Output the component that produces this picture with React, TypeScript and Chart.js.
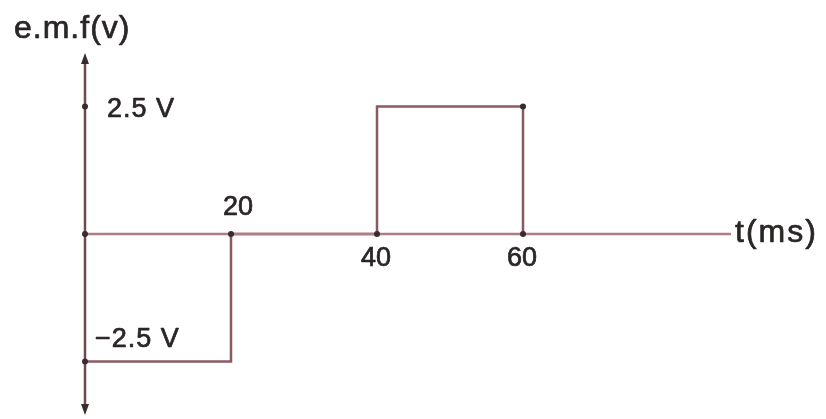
import { useEffect, useRef } from 'react';
import { Chart, registerables } from 'chart.js';

Chart.register(...registerables);

// Square-wave e.m.f. against time
const timeMs = [0, 20, 20, 40, 40, 60, 60];
const emfV = [-2.5, -2.5, 0, 0, 2.5, 2.5, 0];

// Corner dots on the waveform and the axes
const markerTimes = [0, 0, 0, 20, 40, 60, 60];
const markerEmf = [2.5, 0, -2.5, 0, 0, 0, 2.5];

// Time labels along the axis, and on which side of it they sit
const timeTicks = [20, 40, 60];
const timeTickLabels = ['20', '40', '60'];
const timeTickSides = ['above', 'below', 'below'];

// Voltage levels marked on the vertical axis
const emfLevels = [2.5, -2.5];
const emfLevelLabels = ['2.5 V', '\u22122.5 V'];
const emfLevelSides = ['right', 'above'];

// Extent of the drawn axes
const timeAxisEnd = 88.5;
const emfAxisMin = -3.55;
const emfAxisMax = 3.55;

const FONT = '"Liberation Sans", Arial, sans-serif';
const TEXT = '#2b2626';
const WAVE = '#8b5a5f';
const AXIS_X = '#b07c83';
const AXIS_Y = '#6f4a4d';

// Filled text with a thin outline so the strokes look a little heavier
function heavyText(ctx: CanvasRenderingContext2D, s: string, x: number, y: number) {
  ctx.fillText(s, x, y);
  ctx.strokeText(s, x, y);
}

const annotations = {
  id: 'annotations',
  afterDatasetsDraw(chart: any) {
    const { ctx, scales } = chart;
    const x = scales.x;
    const y = scales.y;
    const x0 = x.getPixelForValue(0);
    const y0 = y.getPixelForValue(0);
    const yTop = y.getPixelForValue(emfAxisMax);
    const yBot = y.getPixelForValue(emfAxisMin);
    ctx.save();

    // arrowheads on the vertical axis
    ctx.fillStyle = '#3a2b2c';
    ctx.beginPath();
    ctx.moveTo(x0, yTop);
    ctx.lineTo(x0 - 4, yTop + 11);
    ctx.lineTo(x0 + 4, yTop + 11);
    ctx.closePath();
    ctx.fill();
    ctx.beginPath();
    ctx.moveTo(x0, yBot);
    ctx.lineTo(x0 - 4, yBot - 11);
    ctx.lineTo(x0 + 4, yBot - 11);
    ctx.closePath();
    ctx.fill();

    ctx.fillStyle = TEXT;
    ctx.strokeStyle = TEXT;
    ctx.lineWidth = 0.7;
    ctx.lineJoin = 'round';

    // axis titles
    ctx.font = `32px ${FONT}`;
    ctx.textAlign = 'left';
    ctx.textBaseline = 'middle';
    (ctx as any).letterSpacing = '1px';
    heavyText(ctx, 'e.m.f(v)', x0 - 71, yTop - 24);
    (ctx as any).letterSpacing = '2px';
    heavyText(ctx, 't(ms)', x.getPixelForValue(timeAxisEnd) + 4, y0 - 1);
    (ctx as any).letterSpacing = '0px';

    // time labels
    ctx.font = `27px ${FONT}`;
    ctx.textAlign = 'center';
    timeTicks.forEach((t, i) => {
      const px = x.getPixelForValue(t);
      if (timeTickSides[i] === 'above') {
        ctx.textBaseline = 'bottom';
        heavyText(ctx, timeTickLabels[i], px + 7, y0 - 13);
      } else {
        ctx.textBaseline = 'top';
        heavyText(ctx, timeTickLabels[i], px - 1, y0 + 11);
      }
    });

    // voltage labels
    ctx.textAlign = 'left';
    (ctx as any).letterSpacing = '1px';
    emfLevels.forEach((v, i) => {
      const py = y.getPixelForValue(v);
      if (emfLevelSides[i] === 'right') {
        ctx.textBaseline = 'middle';
        heavyText(ctx, emfLevelLabels[i], x0 + 22, py + 3);
      } else {
        ctx.textBaseline = 'bottom';
        heavyText(ctx, emfLevelLabels[i], x0 + 10, py - 8);
      }
    });

    ctx.restore();
  },
};

export default function App() {
  const canvasRef = useRef<HTMLCanvasElement | null>(null);

  useEffect(() => {
    const canvas = canvasRef.current;
    if (!canvas) return;
    const chart = new Chart(canvas, {
      type: 'line',
      data: {
        datasets: [
          {
            label: 'time axis',
            data: [
              { x: 0, y: 0 },
              { x: timeAxisEnd, y: 0 },
            ],
            borderColor: AXIS_X,
            borderWidth: 2.5,
            pointRadius: 0,
            clip: false as any,
            order: 1,
          },
          {
            label: 'emf axis',
            data: [
              { x: 0, y: emfAxisMin + 0.1 },
              { x: 0, y: emfAxisMax - 0.1 },
            ],
            borderColor: AXIS_Y,
            borderWidth: 2.5,
            pointRadius: 0,
            clip: false as any,
            order: 1,
          },
          {
            label: 'e.m.f',
            data: timeMs.map((t, i) => ({ x: t, y: emfV[i] })),
            borderColor: WAVE,
            borderWidth: 2.5,
            pointRadius: 0,
            tension: 0,
            clip: false as any,
            order: 2,
          },
          {
            label: 'corners',
            data: markerTimes.map((t, i) => ({ x: t, y: markerEmf[i] })),
            showLine: false,
            pointRadius: 3,
            pointBackgroundColor: '#3a2b2c',
            pointBorderWidth: 0,
            clip: false as any,
            order: 0,
          },
        ],
      },
      options: {
        responsive: false,
        animation: false,
        events: [],
        layout: { padding: { left: 85, right: 11, top: 53, bottom: 2 } },
        plugins: {
          legend: { display: false },
          tooltip: { enabled: false },
        },
        scales: {
          x: { type: 'linear', min: 0, max: 100, display: false },
          y: { type: 'linear', min: emfAxisMin, max: emfAxisMax, display: false },
        },
      },
      plugins: [annotations],
    });
    return () => chart.destroy();
  }, []);

  return (
    <div style={{ position: 'fixed', left: 0, top: 0, width: 826, height: 419, background: '#ffffff' }}>
      <canvas ref={canvasRef} width={826} height={419} style={{ display: 'block' }} />
    </div>
  );
}
